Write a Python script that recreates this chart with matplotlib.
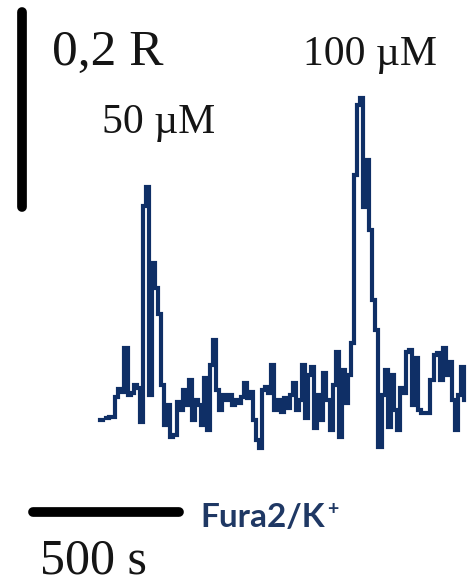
import numpy as np
import matplotlib
matplotlib.use("Agg")
import matplotlib.pyplot as plt

# Fura2 ratio trace (340/380), one frame every 10.5 s
dt = 10.5
ratio = [0.979, np.nan, 0.982, 0.983, 0.983, 1.003, 1.011, 1.008, 1.053, 1.005,
         1.007, 1.015, 1.012, 0.977, 1.199, 1.219, 1.005, 1.141, 1.115, 1.088,
         1.015, 0.974, 0.995, 0.962, 0.964, 0.998, 0.990, 1.010, 0.995, 1.021,
         0.979, 1.000, 0.995, 0.974, 1.023, 0.969, 1.036, 1.062, 1.010, 0.990,
         1.005, 1.000, 1.005, 0.995, 1.000, 0.997, 1.003, 1.017, 1.002, 1.008,
         0.979, 0.959, 0.951, 1.010, 1.013, 1.007, 1.036, 0.990, 1.000, 0.988,
         1.002, 0.992, 1.005, 1.017, 0.990, 1.000, 1.036, 0.982, 1.026, 1.034,
         0.971, 1.005, 0.979, 1.028, 1.000, 0.969, 1.015, 1.049, 0.962, 1.031,
         0.997, 1.026, 1.058, 1.231, 1.303, 1.310, 1.198, 1.246, 1.174, 1.103,
         1.072, 0.952, 1.005, 1.031, 0.972, 1.026, 0.990, 0.969, 1.012, 1.007,
         1.049, 1.051, 0.995, 1.043, 0.990, 0.987, 0.987, 0.987, 1.021, 1.046,
         1.048, 1.021, 1.053, 1.026, 1.039, 1.000, 0.969, 1.005, 1.034, 1.000]
time = np.arange(len(ratio)) * dt

# scale bars
bar_time = 500      # s
bar_ratio = 0.2     # R
doses = ["50 µM", "100 µM"]

W, H = 471, 583
fig = plt.figure(figsize=(W / 100, H / 100), dpi=100)
ax = fig.add_axes([0, 0, 1, 1])
ax.axis("off")

# pixel anchors -> data limits
px_per_s = 3.06 / dt
px_per_R = 1 / 0.001026
ax.set_xlim(-100 / px_per_s, (W - 100) / px_per_s)
ax.set_ylim(1 - (H - 400) / px_per_R, 1 + 400 / px_per_R)

navy = "#0f2f66"
ax.step(time, ratio, where="post", color=navy, lw=3.0, solid_joinstyle="miter")

# vertical bar 0,2 R
xv = (22 - 100) / px_per_s
y0 = 1 + (400 - 207) / px_per_R
ax.plot([xv, xv], [y0, y0 + bar_ratio], color="black", lw=7, solid_capstyle="round")
# horizontal bar 500 s
x0 = (33 - 100) / px_per_s
yh = 1 + (400 - 512) / px_per_R
ax.plot([x0, x0 + bar_time], [yh, yh], color="black", lw=7, solid_capstyle="round")

serif = "Liberation Serif"
txt = "#151515"
fig.text(52 / W, 1 - 65 / H, "0,2 R", family=serif, fontsize=37, color=txt, va="baseline")
fig.text(303 / W, 1 - 65 / H, doses[1], family=serif, fontsize=30, color=txt, va="baseline")
fig.text(102 / W, 1 - 133 / H, doses[0], family=serif, fontsize=30, color=txt, va="baseline")
fig.text(40 / W, 1 - 573 / H, "500 s", family=serif, fontsize=36, color=txt, va="baseline")

fig.text(200 / W, 1 - 527 / H, "Fura2/K", family="Lato", weight="bold", fontsize=24,
         color="#1f3864", va="baseline")
fig.text(327 / W, 1 - 515 / H, "+", family="Lato", weight="bold", fontsize=14,
         color="#1f3864", va="baseline")

fig.savefig("out.png", dpi=100)
